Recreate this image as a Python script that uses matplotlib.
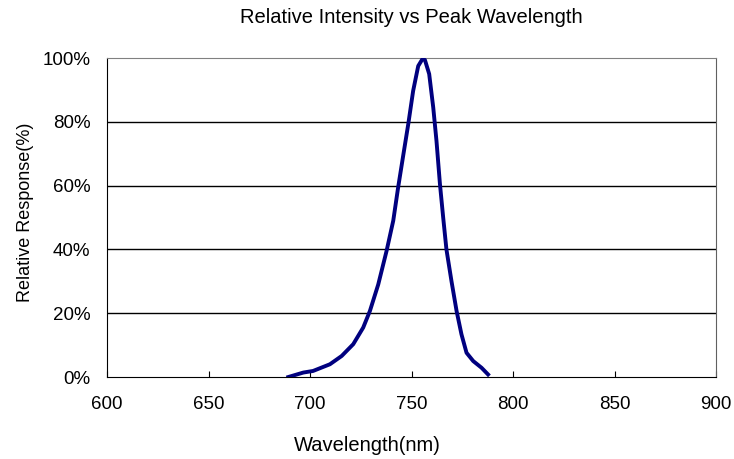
import matplotlib.pyplot as plt
from matplotlib.ticker import FuncFormatter

plt.rcParams['font.family'] = ['Liberation Sans', 'DejaVu Sans']

# Data
wavelength = [689.3, 696.7, 701.5, 709.8, 715.6, 721.3, 726.2, 729.5, 733.6, 737.7,
              741.0, 743.4, 745.9, 748.4, 750.8, 753.3, 755.4, 756.6, 758.7, 760.7,
              762.3, 764.0, 765.6, 767.2, 769.7, 772.2, 774.6, 777.1, 780.4, 784.5, 787.7]
response = [0.0, 1.4, 1.9, 4.0, 6.6, 10.3, 15.5, 20.7, 29.0, 39.5,
            49.0, 59.4, 69.4, 79.3, 89.7, 97.5, 99.7, 99.4, 95.0, 84.5,
            74.0, 60.5, 50.0, 40.0, 30.0, 20.7, 13.4, 7.6, 5.0, 2.9, 0.8]
x_ticks = [600, 650, 700, 750, 800, 850, 900]
y_ticks = [0, 20, 40, 60, 80, 100]

fig = plt.figure(figsize=(7.34, 4.59), dpi=100)
ax = fig.add_axes([0.1458, 0.1786, 0.8297, 0.695])

for yv in y_ticks[1:-1]:
    ax.axhline(yv, color='black', linewidth=1, zorder=1)

ax.plot(wavelength, response, color='#00007f', linewidth=2.8, zorder=3)

ax.set_xlim(600, 900)
ax.set_ylim(0, 100)
ax.set_xticks(x_ticks)
ax.set_yticks(y_ticks)
ax.yaxis.set_major_formatter(FuncFormatter(lambda v, p: '%d%%' % v))
ax.tick_params(axis='x', direction='in', length=4, labelsize=13.5, pad=14, colors='black')
ax.tick_params(axis='y', length=0, labelsize=13.5, pad=12, colors='black')

ax.spines['top'].set_color('#808080')
ax.spines['right'].set_color('#606060')
ax.spines['left'].set_color('black')
ax.spines['bottom'].set_color('black')

ax.set_title('Relative Intensity vs Peak Wavelength', fontsize=14.5, pad=25)
ax.set_xlabel('Wavelength(nm)', fontsize=14.5)
ax.set_ylabel('Relative Response(%)', fontsize=13)
# label positions in the source are off-centre
ax.xaxis.set_label_coords(0.427, -0.185)
ax.yaxis.set_label_coords(-0.12, 0.517)

plt.savefig('out.png', dpi=100)
